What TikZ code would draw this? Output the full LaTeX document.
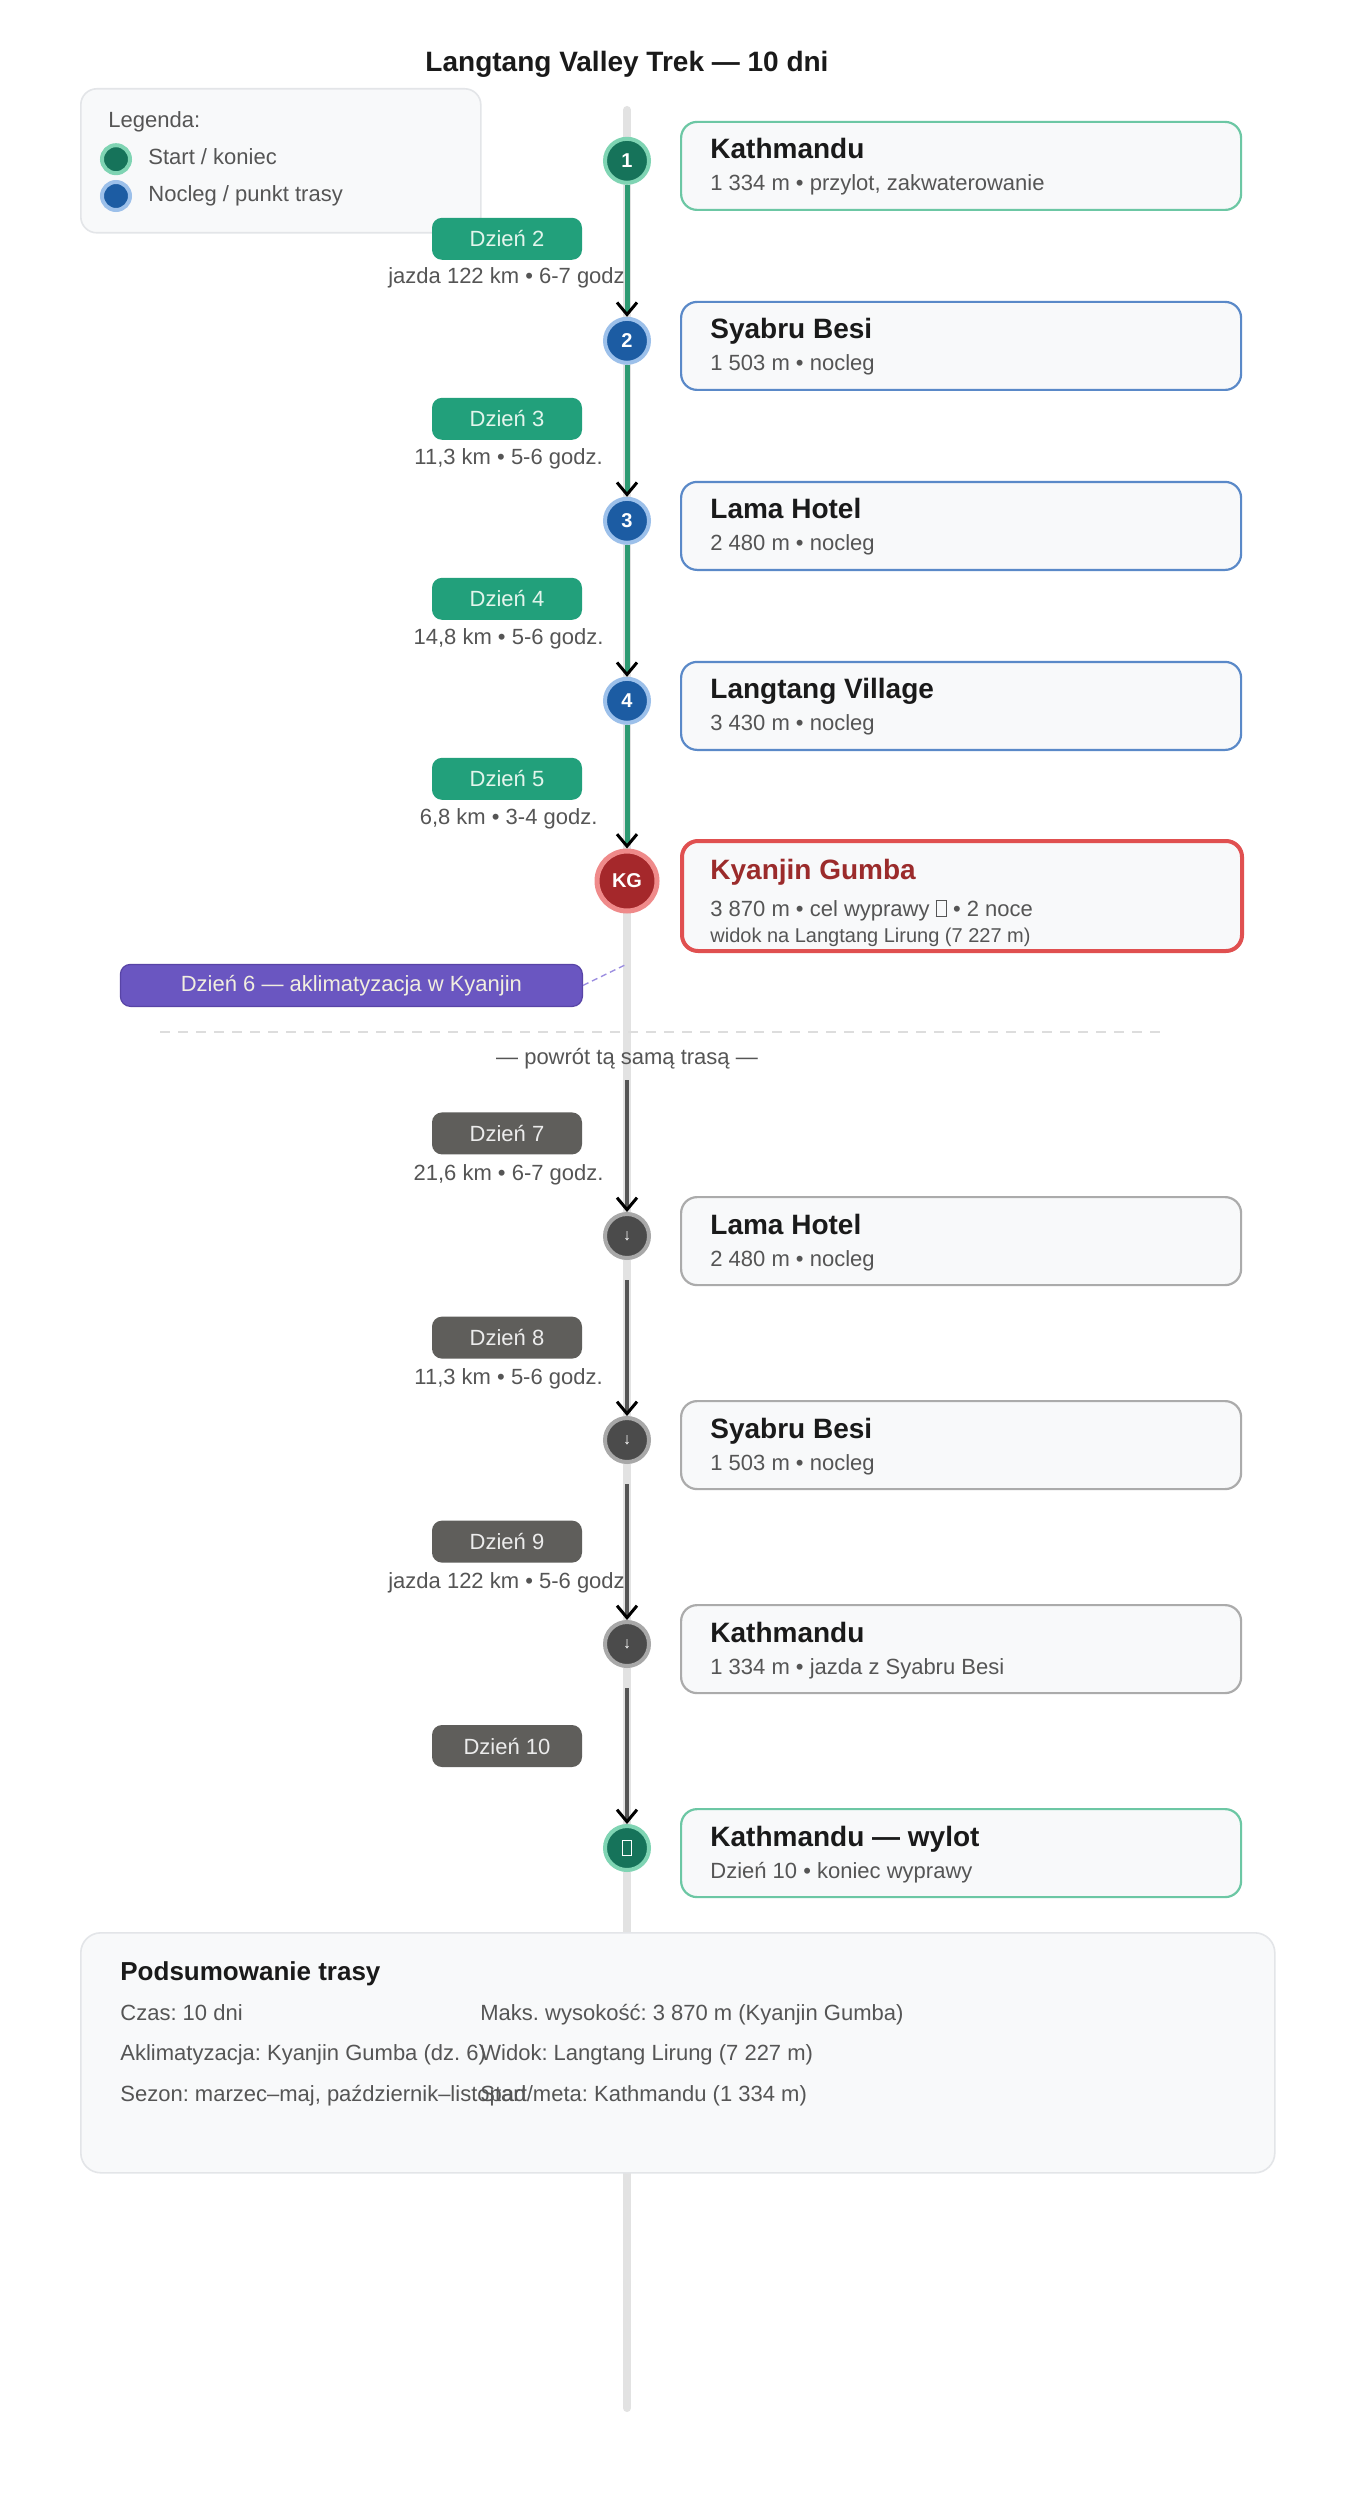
\documentclass[tikz,border=0pt]{standalone}
\usepackage{fontspec}
\setmainfont{Liberation Sans}
\usetikzlibrary{positioning,arrows.meta,calc}
\frenchspacing

\definecolor{axisgray}{HTML}{E2E2E2}
\definecolor{panelbg}{HTML}{F8F9FA}
\definecolor{paneledge}{HTML}{E3E5E8}
\definecolor{ink}{HTML}{1A1A1A}
\definecolor{subink}{HTML}{555555}
\definecolor{startgreen}{HTML}{16735A}
\definecolor{startring}{HTML}{7FD4B3}
\definecolor{stopblue}{HTML}{1C5CA3}
\definecolor{stopring}{HTML}{9CC0EA}
\definecolor{peakred}{HTML}{A5282B}
\definecolor{peakring}{HTML}{EF8A8A}
\definecolor{backgray}{HTML}{4B4B4B}
\definecolor{backring}{HTML}{A8A8A8}
\definecolor{trailgreen}{HTML}{2D9A72}
\definecolor{backtrail}{HTML}{555555}
\definecolor{daygreen}{HTML}{22A07B}
\definecolor{daygreentext}{HTML}{E3F5EC}
\definecolor{daygray}{HTML}{5F5E5B}
\definecolor{daygraytext}{HTML}{ECECEC}
\definecolor{acclimfill}{HTML}{6A56C1}
\definecolor{acclimedge}{HTML}{5844A6}
\definecolor{acclimtext}{HTML}{F1EEDF}
\definecolor{acclimdash}{HTML}{9B8DE0}
\definecolor{cardgreenedge}{HTML}{6CC7A4}
\definecolor{cardblueedge}{HTML}{5A89C8}
\definecolor{cardgrayedge}{HTML}{ABABAB}
\definecolor{cardrededge}{HTML}{E05050}
\definecolor{peaktitle}{HTML}{9B2B2B}
\definecolor{sepgray}{HTML}{DDDDDD}

\newcommand{\tofu}{{\setlength{\fboxsep}{0pt}\setlength{\fboxrule}{0.5pt}\fbox{\rule{0pt}{0.68em}\hspace{0.42em}}}}

\tikzset{
  dot/.style={circle,minimum size=22pt,inner sep=0pt,line width=2pt,text=white,
              font=\fontsize{10}{12}\selectfont\bfseries},
  startdot/.style={dot,fill=startgreen,draw=startring},
  stopdot/.style={dot,fill=stopblue,draw=stopring},
  peakdot/.style={dot,minimum size=30pt,line width=2.5pt,fill=peakred,draw=peakring},
  backdot/.style={dot,fill=backgray,draw=backring,font=\fontsize{8}{10}\selectfont},
  legdot/.style={circle,minimum size=14pt,inner sep=0pt,line width=2pt},
  card/.style={draw,line width=1.1pt,rounded corners=8pt,fill=panelbg,
               minimum width=280pt,minimum height=44pt,anchor=north west,inner sep=0pt},
  cardgreen/.style={card,draw=cardgreenedge},
  cardblue/.style={card,draw=cardblueedge},
  cardgray/.style={card,draw=cardgrayedge},
  cardred/.style={card,draw=cardrededge,line width=2pt,minimum height=55pt},
  cardtitle/.style={anchor=base west,inner sep=0pt,text=ink,
                    font=\fontsize{14}{17}\selectfont\bfseries},
  cardsub/.style={anchor=base west,inner sep=0pt,text=subink,
                  font=\fontsize{11}{13}\selectfont},
  pill/.style={rectangle,rounded corners=5pt,minimum width=75pt,minimum height=21pt,
               inner sep=0pt,font=\fontsize{11}{13}\selectfont},
  greenpill/.style={pill,fill=daygreen,text=daygreentext},
  graypill/.style={pill,fill=daygray,text=daygraytext},
  acclimpill/.style={pill,minimum width=231pt,fill=acclimfill,draw=acclimedge,
                     line width=0.6pt,text=acclimtext},
  daynote/.style={anchor=base,inner sep=0pt,text=subink,font=\fontsize{11}{13}\selectfont},
  plain/.style={anchor=base west,inner sep=0pt,text=subink,font=\fontsize{11}{13}\selectfont},
  legtext/.style={anchor=west,inner sep=0pt,text=subink,text height=0.75em,text depth=0.2em,
                  font=\fontsize{11}{13}\selectfont},
  dayline/.style={line width=2.5pt,draw=trailgreen,
                  -{Straight Barb[length=6pt,width=10pt,line width=1.5pt,color=black]}},
  backline/.style={line width=2pt,draw=backtrail,
                   -{Straight Barb[length=6pt,width=10pt,line width=1.5pt,color=black]}},
}

\begin{document}
\begin{tikzpicture}[x=1pt,y=-1pt]
  \fill[white] (0,0) rectangle (680,1260);
  \useasboundingbox (0,0) rectangle (680,1260);

  % timeline axis
  \draw[axisgray,line width=4pt,line cap=round] (313.5,55) -- (313.5,1204);

  \node[anchor=base,inner sep=0pt,text=ink,font=\fontsize{14}{17}\selectfont\bfseries]
        (title) at (313.5,36) {Langtang Valley Trek — 10 dni};

  % legend
  \node[draw=paneledge,fill=panelbg,rounded corners=8pt,line width=0.8pt,anchor=north west,
        minimum width=200pt,minimum height=72pt,inner sep=0pt] (legend) at (40,44) {};
  \node[plain] (legtitle) at (54,64) {Legenda:};
  \node[legdot,fill=startgreen,draw=startring] (lg1) at (58,79.6) {};
  \node[legdot,fill=stopblue,draw=stopring] (lg2) at (58,98) {};
  \node[legtext,right=8pt of lg1] {Start / koniec};
  \node[legtext,right=8pt of lg2] {Nocleg / punkt trasy};

  % summary panel
  \node[draw=paneledge,fill=panelbg,rounded corners=10pt,line width=0.8pt,anchor=north west,
        minimum width=597pt,minimum height=120pt,inner sep=0pt] (summary) at (40,966) {};
  \node[anchor=base west,inner sep=0pt,text=ink,font=\fontsize{13}{16}\selectfont\bfseries]
        at (60,990) {Podsumowanie trasy};
  \node[plain] at (60,1010.4) {Czas: 10 dni};
  \node[plain] at (60,1030.4) {Aklimatyzacja: Kyanjin Gumba (dz. 6)};
  \node[plain] at (60,1050.6) {Sezon: marzec–maj, październik–listopad};
  \node[plain] at (240,1010.4) {Maks. wysokość: 3 870 m (Kyanjin Gumba)};
  \node[plain] at (240,1030.4) {Widok: Langtang Lirung (7 227 m)};
  \node[plain] at (240,1050.6) {Start/meta: Kathmandu (1 334 m)};

  % day labels, ascent
  \node[greenpill] (day2) at (253.5,119.4) {Dzień 2};
  \node[daynote] at (254.8,142) {jazda 122 km • 6-7 godz.};
  \node[greenpill] (day3) at (253.5,209.4) {Dzień 3};
  \node[daynote] at (254.3,232) {11,3 km • 5-6 godz.};
  \node[greenpill] (day4) at (253.5,299.4) {Dzień 4};
  \node[daynote] at (254.3,322) {14,8 km • 5-6 godz.};
  \node[greenpill] (day5) at (253.5,389.4) {Dzień 5};
  \node[daynote] at (254.3,412) {6,8 km • 3-4 godz.};
  \node[acclimpill] (acclim) at (175.7,492.7) {Dzień 6 — aklimatyzacja w Kyanjin};
  \coordinate (kgmark) at (313.5,482);
  \draw[acclimdash,line width=0.7pt,dash pattern=on 3pt off 2pt] (acclim.east) -- (kgmark);

  % way back
  \draw[sepgray,line width=1pt,dash pattern=on 5pt off 4pt] (80,516) -- (580,516);
  \node[daynote] (backnote) at (313.5,532) {— powrót tą samą trasą —};
  \coordinate (retstart) at (313.5,540);
  \node[graypill] (day7) at (253.5,566.7) {Dzień 7};
  \node[daynote] at (254.3,590) {21,6 km • 6-7 godz.};
  \node[graypill] (day8) at (253.5,668.8) {Dzień 8};
  \node[daynote] at (254.3,692) {11,3 km • 5-6 godz.};
  \node[graypill] (day9) at (253.5,770.8) {Dzień 9};
  \node[daynote] at (254.8,794) {jazda 122 km • 5-6 godz.};
  \node[graypill] (day10) at (253.5,873) {Dzień 10};

  % stations
  \node[startdot] (st1) at (313.5,80.4) {1};
  \node[stopdot] (st2) at (313.5,170.4) {2};
  \node[stopdot] (st3) at (313.5,260.4) {3};
  \node[stopdot] (st4) at (313.5,350.4) {4};
  \node[peakdot] (kg) at (313.5,440.5) {KG};
  \node[backdot] (rt1) at (313.5,618) {↓};
  \node[backdot] (rt2) at (313.5,720) {↓};
  \node[backdot] (rt3) at (313.5,822) {↓};
  \node[startdot,font=\fontsize{10}{12}\selectfont] (rt4) at (313.5,924) {\tofu};

  \draw[dayline] (st1) -- (st2);
  \draw[dayline] (st2) -- (st3);
  \draw[dayline] (st3) -- (st4);
  \draw[dayline] (st4) -- (kg);
  \draw[backline] (retstart) -- (rt1);
  \draw[backline,shorten <=10pt] (rt1) -- (rt2);
  \draw[backline,shorten <=10pt] (rt2) -- (rt3);
  \draw[backline,shorten <=10pt] (rt3) -- (rt4);

  % cards
  \node[cardgreen] (c1) at (340,60.4) {};
  \node[cardtitle] at ($(c1.north west)+(15,19)$) {Kathmandu};
  \node[cardsub] at ($(c1.north west)+(15,35)$) {1 334 m • przylot, zakwaterowanie};
  \node[cardblue] (c2) at (340,150.4) {};
  \node[cardtitle] at ($(c2.north west)+(15,19)$) {Syabru Besi};
  \node[cardsub] at ($(c2.north west)+(15,35)$) {1 503 m • nocleg};
  \node[cardblue] (c3) at (340,240.4) {};
  \node[cardtitle] at ($(c3.north west)+(15,19)$) {Lama Hotel};
  \node[cardsub] at ($(c3.north west)+(15,35)$) {2 480 m • nocleg};
  \node[cardblue] (c4) at (340,330.4) {};
  \node[cardtitle] at ($(c4.north west)+(15,19)$) {Langtang Village};
  \node[cardsub] at ($(c4.north west)+(15,35)$) {3 430 m • nocleg};
  \node[cardred] (c5) at (340,419.5) {};
  \node[cardtitle,text=peaktitle] at ($(c5.north west)+(15,20)$) {Kyanjin Gumba};
  \node[cardsub] at ($(c5.north west)+(15,38.5)$) {3 870 m • cel wyprawy \tofu{} • 2 noce};
  \node[cardsub,font=\fontsize{10}{12}\selectfont] at ($(c5.north west)+(15,51.5)$)
        {widok na Langtang Lirung (7 227 m)};
  \node[cardgray] (c6) at (340,598) {};
  \node[cardtitle] at ($(c6.north west)+(15,19)$) {Lama Hotel};
  \node[cardsub] at ($(c6.north west)+(15,35)$) {2 480 m • nocleg};
  \node[cardgray] (c7) at (340,700) {};
  \node[cardtitle] at ($(c7.north west)+(15,19)$) {Syabru Besi};
  \node[cardsub] at ($(c7.north west)+(15,35)$) {1 503 m • nocleg};
  \node[cardgray] (c8) at (340,802) {};
  \node[cardtitle] at ($(c8.north west)+(15,19)$) {Kathmandu};
  \node[cardsub] at ($(c8.north west)+(15,35)$) {1 334 m • jazda z Syabru Besi};
  \node[cardgreen] (c9) at (340,904) {};
  \node[cardtitle] at ($(c9.north west)+(15,19)$) {Kathmandu — wylot};
  \node[cardsub] at ($(c9.north west)+(15,35)$) {Dzień 10 • koniec wyprawy};
\end{tikzpicture}
\end{document}
